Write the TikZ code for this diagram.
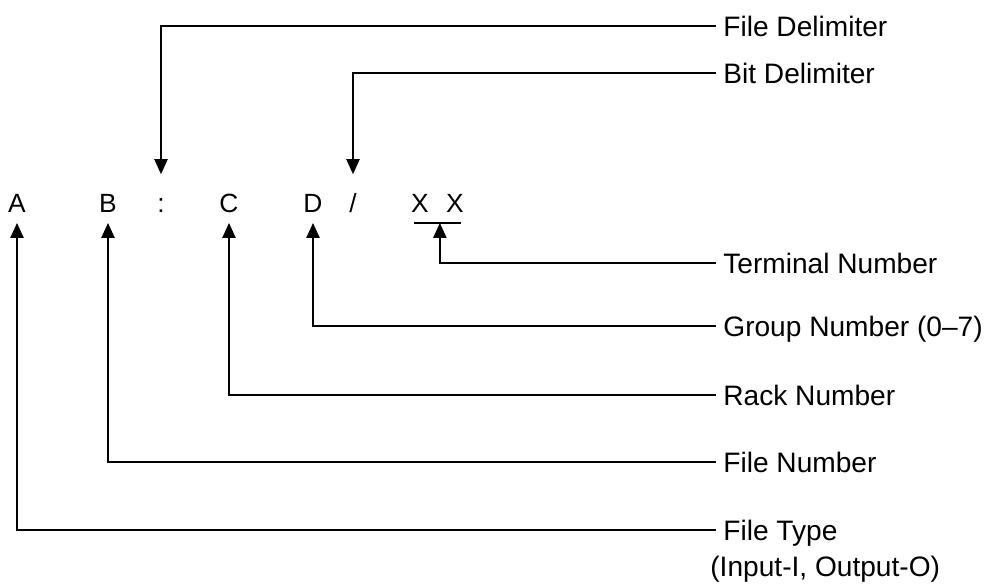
\documentclass[tikz,border=0pt]{standalone}
\usepackage{fontspec}
\setmainfont{Liberation Sans}
\usetikzlibrary{arrows.meta, positioning}

\begin{document}
\begin{tikzpicture}[
    x=0.02cm, y=-0.02cm,
    letter/.style = {anchor=base, font=\fontsize{15}{18}\selectfont, text height=15.3pt, text depth=0pt, inner ysep=6pt},
    lab/.style    = {anchor=west, font=\fontsize{16}{19}\selectfont, inner xsep=4pt, text height=11.5pt, text depth=0pt},
    arr/.style    = {-{Triangle[length=0.3cm, width=0.26cm]}, line width=1.3pt},
    uline/.style  = {line width=1.3pt}
]
\useasboundingbox (0,0) rectangle (998,583);

% ---- Address letters ----
\node[letter] (a)     at (17,212)  {A};
\node[letter] (b)     at (108,212) {B};
\node[letter] (colon) at (161,212) {:};
\node[letter] (c)     at (229,212) {C};
\node[letter] (d)     at (313,212) {D};
\node[letter] (sl)    at (353,212) {/};
\node[letter] (x1)    at (420,212) {X};
\node[letter] (x2)    at (455,212) {X};

% ---- Terminal underline ----
\draw[uline] ([xshift=5pt]x1.south west) -- coordinate[pos=.55] (um) ([xshift=-5pt]x2.south east);

% ---- Labels (right column) ----
\node[lab] (fdl) at (716,26)  {File Delimiter};
\node[lab] (bdl) at (716,73)  {Bit Delimiter};
\node[lab] (tnl) at (716,263) {Terminal Number};
\node[lab] (gnl) at (716,326) {Group Number (0--7)};
\node[lab] (rnl) at (716,395) {Rack Number};
\node[lab] (fnl) at (716,462) {File Number};
\node[lab] (ftl) at (716,530) {File Type};
\node[lab] (iol) at (703,566) {(Input-I, Output-O)};

% ---- Arrows ----
\draw[arr] (fdl.west) -| (colon.north);
\draw[arr] (bdl.west) -| (sl.north);
\draw[arr] (tnl.west) -| (um);
\draw[arr] (gnl.west) -| (d.south);
\draw[arr] (rnl.west) -| (c.south);
\draw[arr] (fnl.west) -| (b.south);
\draw[arr] (ftl.west) -| (a.south);

\end{tikzpicture}
\end{document}
